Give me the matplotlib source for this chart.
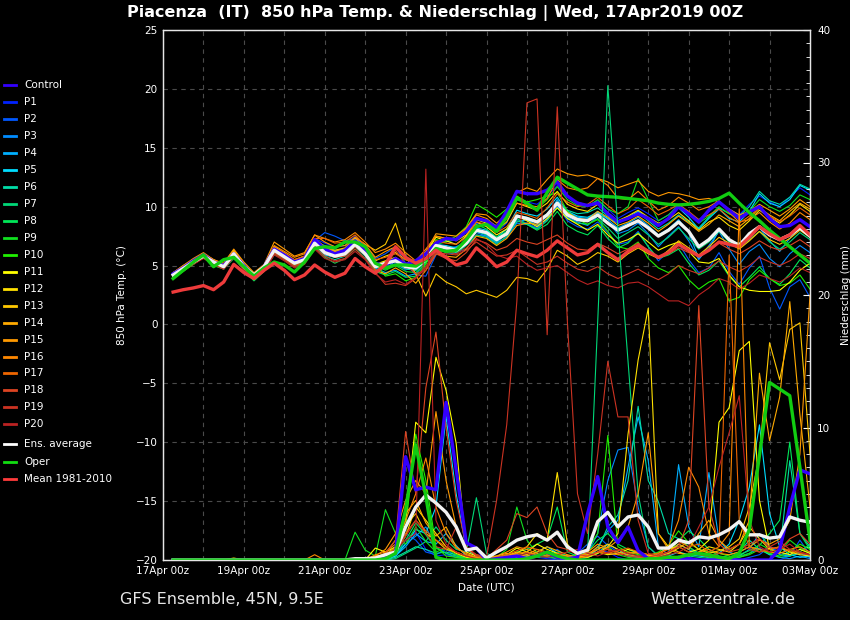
import matplotlib
matplotlib.use('Agg')
import matplotlib.pyplot as plt
import matplotlib.dates as mdates
from matplotlib.lines import Line2D
from matplotlib.ticker import MultipleLocator
import pandas as pd

# 6-hourly GFS ensemble run 17Apr2019 00Z, first value at +6h
times = pd.date_range('2019-04-17 06:00', periods=64, freq='6h')

labels = ['Control'] + ['P%d' % k for k in range(1, 21)]
colors = ['#3300ff', '#0022ff', '#0058ff', '#008cff', '#00b0ff', '#00ddff',
          '#00dda8', '#00d878', '#00e858', '#10e020', '#20f000', '#ffff00',
          '#ffe000', '#ffc800', '#ffaa00', '#ff9900', '#ff8800', '#ee6600',
          '#dd4422', '#cc3322', '#bb2222']

# 850 hPa temperature (deg C)
t_ens = [4.2, 4.75, 5.3, 5.8, 5.3, 4.9, 6.0, 4.9, 4.2, 4.9, 6.3, 5.75, 5.2, 5.5, 6.9, 6.1,
         5.8, 6.0, 6.8, 6.0, 4.9, 5.2, 5.4, 4.9, 4.8, 5.5, 6.7, 6.5, 6.3, 6.9, 8.0, 7.8,
         7.2, 7.7, 9.2, 9.0, 8.7, 9.3, 10.3, 9.3, 8.9, 8.8, 9.3, 8.6, 8.0, 8.4, 8.8, 8.2,
         7.5, 8.0, 8.7, 7.9, 6.6, 7.2, 8.1, 7.2, 6.7, 7.7, 8.3, 7.6, 7.2, 7.6, 8.2, 7.5]
t_oper = [3.9, 4.6, 5.3, 5.9, 4.9, 5.5, 5.7, 4.9, 4.1, 4.8, 5.3, 5.05, 4.45, 5.3, 6.45, 6.6,
          6.5, 7.0, 7.0, 6.6, 5.2, 4.8, 5.05, 5.05, 4.95, 5.5, 6.45, 6.2, 6.3, 7.2, 8.3, 8.5,
          7.9, 9.1, 10.7, 10.3, 9.7, 11.2, 12.5, 12.0, 11.5, 11.0, 10.9, 10.85, 10.8, 10.7, 10.6, 10.5,
          10.3, 10.2, 10.15, 10.2, 10.3, 10.45, 10.7, 11.15, 10.3, 9.5, 8.8, 8.0, 7.3, 6.6, 5.9, 5.2]
t_clim = [2.75, 2.95, 3.1, 3.3, 2.95, 3.6, 5.1, 4.4, 3.9, 4.6, 5.2, 4.6, 3.8, 4.2, 5.05, 4.45,
          4.0, 4.35, 5.6, 4.9, 4.35, 5.1, 6.6, 5.7, 5.2, 5.6, 6.3, 5.7, 5.05, 5.3, 6.5, 5.75,
          4.9, 5.3, 6.3, 6.0, 5.75, 6.3, 7.1, 6.5, 5.9, 6.1, 6.8, 6.1, 5.5, 6.2, 6.7, 6.2,
          5.7, 6.1, 6.8, 6.3, 5.8, 6.3, 7.0, 6.8, 6.6, 7.4, 8.3, 7.7, 7.2, 7.6, 8.4, 7.6]
t_ctrl = [4.3, 4.8, 5.4, 5.9, 5.3, 5.0, 6.0, 5.0, 4.1, 4.9, 6.4, 5.9, 5.3, 5.6, 7.2, 6.4,
          6.0, 6.3, 7.1, 6.3, 5.2, 5.0, 5.6, 5.1, 5.4, 6.0, 6.9, 7.3, 7.2, 7.9, 9.0, 8.8,
          8.2, 9.6, 11.3, 11.1, 11.1, 11.4, 12.1, 10.9, 10.3, 10.1, 10.3, 9.4, 8.7, 9.0, 9.4, 9.0,
          8.4, 9.0, 10.0, 9.4, 8.7, 9.7, 10.4, 9.7, 9.0, 9.55, 10.0, 9.0, 8.3, 8.4, 8.9, 8.3]
t_p1 = [4.1, 4.7, 5.3, 5.8, 5.2, 4.9, 6.0, 5.0, 4.3, 5.0, 6.2, 5.8, 5.4, 5.7, 7.3, 6.9,
        6.6, 6.7, 7.5, 6.5, 5.3, 4.8, 5.2, 4.6, 5.0, 5.6, 6.9, 7.1, 6.8, 7.4, 8.6, 8.4,
        7.8, 8.6, 10.6, 10.4, 10.2, 10.9, 11.8, 10.8, 10.4, 10.1, 10.5, 9.8, 9.0, 9.5, 9.9, 9.4,
        8.8, 9.3, 10.2, 9.5, 8.9, 9.6, 10.3, 9.8, 9.3, 10.2, 10.9, 10.4, 10.0, 10.8, 11.6, 11.0]
t_p2 = [4.3, 4.9, 5.5, 5.9, 5.4, 5.0, 5.9, 4.8, 4.0, 4.8, 6.1, 5.6, 5.1, 5.4, 7.1, 7.8,
        7.5, 7.1, 7.3, 6.7, 5.6, 6.0, 6.6, 5.2, 4.2, 4.1, 5.9, 6.6, 6.1, 6.4, 7.6, 7.5,
        6.9, 7.8, 8.9, 8.6, 8.2, 9.0, 10.1, 8.8, 8.3, 8.1, 8.7, 7.8, 6.8, 7.0, 7.9, 6.6,
        5.4, 6.2, 6.9, 5.5, 4.4, 4.8, 6.1, 4.5, 3.4, 4.8, 5.8, 3.1, 1.3, 3.2, 3.8, 2.3]
t_p3 = [4.2, 4.8, 5.4, 5.9, 5.3, 4.8, 5.9, 4.9, 4.2, 4.8, 6.0, 5.6, 5.2, 5.6, 7.0, 6.7,
        6.3, 6.4, 6.9, 6.2, 5.0, 4.7, 5.4, 4.9, 4.7, 5.6, 6.6, 6.4, 6.6, 7.0, 7.8, 7.5,
        6.9, 7.4, 8.6, 8.5, 8.1, 8.9, 10.0, 9.1, 8.7, 8.4, 9.2, 8.7, 7.7, 8.0, 8.6, 7.7,
        6.6, 7.5, 8.3, 7.1, 5.5, 6.7, 7.9, 6.4, 5.1, 6.2, 6.8, 5.6, 4.9, 6.0, 6.7, 6.1]
t_p4 = [4.2, 4.8, 5.3, 5.8, 5.3, 4.9, 6.1, 5.0, 4.1, 4.8, 6.3, 5.7, 5.1, 5.5, 6.8, 6.0,
        5.8, 6.1, 6.9, 6.1, 4.8, 4.4, 4.6, 4.1, 4.3, 5.2, 6.5, 6.1, 6.0, 6.8, 7.9, 7.7,
        7.3, 7.6, 8.7, 8.9, 8.4, 9.2, 10.6, 9.5, 9.1, 9.0, 9.6, 8.9, 8.2, 8.6, 9.1, 8.4,
        7.6, 8.1, 8.9, 7.8, 5.6, 6.4, 8.0, 7.1, 6.9, 7.6, 8.2, 7.1, 6.2, 7.3, 8.3, 7.7]
t_p5 = [4.1, 4.7, 5.2, 5.8, 5.2, 4.9, 6.1, 5.1, 4.3, 4.9, 6.2, 5.7, 5.1, 5.4, 6.8, 5.9,
        5.7, 5.9, 6.7, 5.9, 4.9, 5.3, 5.6, 4.9, 4.6, 5.4, 6.8, 6.7, 6.5, 7.1, 8.2, 8.0,
        7.4, 8.1, 9.7, 9.4, 9.2, 9.8, 10.8, 9.6, 9.2, 9.1, 9.5, 9.0, 8.6, 9.1, 9.6, 9.0,
        8.4, 9.0, 9.9, 9.1, 8.1, 9.0, 9.8, 9.0, 8.7, 9.6, 11.1, 10.3, 10.0, 10.6, 11.8, 11.4]
t_p6 = [4.0, 4.6, 5.2, 5.7, 5.1, 4.8, 5.7, 4.7, 3.9, 4.7, 6.0, 5.6, 5.0, 5.3, 6.6, 5.8,
        5.5, 5.8, 6.6, 5.8, 4.6, 4.9, 5.1, 4.7, 4.6, 5.3, 6.4, 6.3, 6.1, 6.9, 7.9, 7.6,
        7.0, 7.8, 9.3, 9.1, 8.8, 9.4, 10.4, 9.7, 9.4, 9.5, 9.9, 9.2, 8.6, 9.0, 9.5, 8.8,
        8.1, 8.6, 9.3, 8.7, 8.2, 9.1, 9.9, 9.4, 9.2, 10.0, 11.3, 10.5, 10.2, 10.8, 11.9, 11.5]
t_p7 = [4.0, 4.6, 5.1, 5.7, 5.2, 4.7, 5.6, 4.7, 3.8, 4.6, 5.9, 5.6, 5.1, 5.4, 6.7, 6.1,
        5.7, 5.9, 6.7, 6.0, 4.8, 5.1, 5.5, 5.0, 4.9, 5.6, 6.6, 6.3, 6.0, 6.7, 7.6, 7.4,
        6.8, 7.5, 8.8, 8.5, 8.1, 8.8, 9.9, 9.0, 8.6, 8.5, 9.0, 8.2, 7.3, 7.8, 8.3, 7.6,
        6.8, 7.4, 8.2, 7.3, 6.4, 7.0, 7.9, 7.0, 6.5, 7.2, 7.9, 7.0, 6.4, 7.0, 7.8, 7.2]
t_p8 = [4.0, 4.6, 5.2, 5.8, 5.0, 4.7, 5.7, 4.6, 3.7, 4.5, 6.1, 5.5, 4.9, 5.2, 6.6, 5.7,
        5.2, 5.6, 6.4, 5.6, 4.5, 4.2, 4.5, 4.0, 4.1, 4.9, 6.2, 6.2, 6.2, 7.1, 8.5, 8.1,
        7.4, 7.9, 9.0, 8.5, 8.0, 8.5, 9.6, 8.4, 7.9, 7.6, 8.4, 7.3, 6.5, 6.9, 7.8, 6.6,
        5.6, 5.9, 6.4, 5.2, 4.2, 4.6, 5.4, 4.1, 3.2, 4.0, 4.9, 3.9, 3.4, 4.3, 5.5, 4.8]
t_p9 = [4.1, 4.7, 5.3, 5.9, 5.3, 5.0, 5.9, 4.8, 4.0, 4.8, 6.2, 5.8, 5.3, 5.6, 7.0, 6.3,
        6.0, 6.2, 7.0, 6.2, 5.0, 4.6, 5.0, 4.5, 4.4, 5.2, 6.8, 7.0, 7.2, 7.8, 9.0, 8.8,
        8.4, 9.2, 10.9, 10.1, 9.8, 10.6, 11.7, 10.6, 10.1, 10.0, 10.6, 9.8, 9.4, 10.0, 12.4, 10.6,
        8.8, 9.3, 10.1, 9.4, 8.6, 9.2, 10.0, 9.4, 9.0, 9.6, 10.6, 10.0, 9.6, 10.1, 11.0, 10.6]
t_p10 = [3.9, 4.5, 5.1, 5.7, 5.0, 4.8, 5.8, 4.8, 3.8, 4.6, 6.0, 5.6, 5.0, 5.3, 6.9, 6.3,
         6.1, 6.4, 7.2, 6.4, 5.2, 4.1, 4.3, 3.7, 4.0, 5.1, 7.2, 7.0, 7.5, 8.3, 10.2, 9.7,
         9.1, 9.8, 10.9, 10.4, 10.6, 10.9, 11.2, 9.6, 8.9, 8.5, 8.9, 7.9, 6.6, 6.4, 7.0, 5.6,
         4.8, 4.4, 5.0, 3.8, 3.0, 3.6, 3.9, 2.0, 2.3, 3.8, 4.6, 3.9, 3.3, 3.5, 4.2, 3.0]
t_p11 = [4.2, 4.8, 5.4, 5.9, 5.4, 5.1, 6.3, 5.1, 4.3, 5.0, 6.6, 6.0, 5.4, 5.8, 7.2, 6.4,
         6.1, 6.2, 7.0, 6.2, 5.1, 5.4, 5.7, 5.1, 4.9, 6.0, 7.4, 7.1, 6.8, 7.5, 8.7, 8.3,
         7.6, 8.1, 9.2, 8.8, 8.3, 9.0, 9.9, 9.0, 8.5, 8.0, 8.5, 7.6, 6.9, 7.2, 7.7, 7.0,
         6.3, 6.7, 7.0, 6.2, 5.3, 5.2, 5.6, 4.2, 3.2, 2.9, 2.8, 2.8, 2.9, 3.6, 4.6, 5.2]
t_p12 = [4.3, 4.9, 5.5, 6.0, 5.4, 5.0, 6.2, 5.0, 4.2, 4.9, 6.4, 5.9, 5.3, 5.6, 7.1, 6.5,
         6.2, 6.4, 7.3, 6.4, 5.4, 5.8, 6.1, 5.5, 5.3, 6.1, 7.5, 7.3, 7.1, 7.6, 8.9, 8.6,
         8.0, 8.7, 10.3, 10.0, 9.7, 10.3, 11.3, 10.2, 9.8, 9.6, 10.2, 9.5, 8.8, 9.2, 9.7, 9.1,
         8.6, 8.9, 9.5, 8.8, 8.0, 8.7, 9.1, 8.4, 8.0, 8.8, 9.7, 9.1, 8.6, 9.3, 10.2, 9.6]
t_p13 = [4.3, 4.9, 5.4, 6.0, 5.5, 5.1, 6.3, 5.2, 4.2, 5.0, 6.5, 5.9, 5.3, 5.7, 7.0, 6.6,
         6.3, 6.5, 7.4, 6.8, 6.3, 6.8, 8.6, 5.8, 4.3, 2.4, 4.3, 3.6, 3.2, 2.6, 2.9, 2.6,
         2.3, 2.9, 4.0, 3.9, 3.6, 4.7, 6.3, 5.8, 5.1, 5.5, 6.1, 5.8, 5.3, 6.0, 6.5, 6.0,
         5.6, 6.3, 7.1, 6.5, 5.9, 6.6, 7.4, 6.9, 6.4, 7.1, 7.9, 7.2, 6.8, 7.3, 8.0, 7.4]
t_p14 = [4.4, 5.0, 5.5, 6.0, 5.5, 5.1, 6.2, 5.1, 4.3, 5.0, 6.6, 6.1, 5.5, 5.8, 7.3, 6.6,
         6.2, 6.3, 7.1, 6.3, 4.6, 4.3, 4.8, 4.3, 3.5, 4.6, 6.0, 5.8, 5.7, 6.4, 7.5, 7.3,
         6.7, 7.3, 8.4, 8.6, 8.5, 9.3, 10.3, 9.5, 9.0, 8.9, 9.6, 9.1, 8.4, 8.7, 9.2, 8.6,
         7.9, 8.5, 9.2, 8.6, 7.9, 8.5, 9.3, 8.8, 8.3, 9.0, 9.9, 9.3, 8.8, 9.6, 10.3, 9.8]
t_p15 = [4.4, 5.0, 5.6, 6.1, 5.5, 5.2, 6.4, 5.3, 4.4, 5.1, 7.0, 6.4, 5.8, 6.1, 7.6, 7.0,
         6.6, 6.7, 7.4, 6.8, 5.7, 6.2, 6.6, 5.6, 5.4, 6.2, 7.7, 7.6, 7.5, 8.2, 9.4, 9.3,
         8.6, 9.4, 11.2, 11.6, 11.3, 12.3, 13.2, 12.8, 12.6, 12.7, 12.4, 12.1, 11.6, 11.9, 12.2, 11.3,
         10.9, 11.2, 11.1, 10.9, 10.6, 10.7, 10.4, 9.8, 9.3, 9.6, 10.2, 9.7, 9.2, 9.8, 10.6, 10.0]
t_p16 = [4.3, 4.9, 5.5, 6.0, 5.4, 5.0, 6.1, 5.0, 4.2, 5.0, 6.7, 6.2, 5.7, 6.0, 7.6, 7.3,
         7.0, 7.2, 7.8, 7.0, 6.1, 6.4, 6.9, 6.1, 5.4, 6.4, 7.5, 7.3, 7.3, 8.1, 9.3, 9.0,
         8.3, 9.0, 10.3, 10.1, 10.0, 10.7, 12.3, 11.6, 11.4, 11.6, 12.4, 11.8, 10.7, 10.6, 11.3, 10.5,
         9.7, 10.1, 10.8, 10.3, 9.7, 10.0, 10.5, 9.5, 8.7, 8.9, 9.5, 8.7, 8.1, 8.6, 9.5, 8.9]
t_p17 = [4.2, 4.8, 5.4, 5.9, 5.3, 4.9, 6.0, 4.9, 4.1, 4.9, 6.5, 6.0, 5.5, 5.8, 7.3, 7.3,
         6.9, 7.0, 7.6, 6.7, 5.5, 5.7, 6.0, 5.5, 5.2, 5.9, 7.1, 6.9, 6.8, 7.4, 8.7, 8.5,
         7.8, 8.3, 9.5, 9.3, 9.0, 9.9, 11.1, 10.4, 10.0, 10.2, 10.8, 10.1, 9.4, 9.8, 10.6, 10.0,
         9.3, 9.7, 10.2, 9.6, 8.9, 9.3, 9.8, 9.1, 8.6, 9.2, 9.9, 9.2, 8.7, 9.2, 9.9, 9.3]
t_p18 = [4.2, 4.7, 5.3, 5.8, 5.2, 4.8, 5.9, 4.8, 4.0, 4.7, 6.1, 5.6, 5.0, 5.3, 6.7, 6.0,
         5.7, 5.8, 6.6, 5.9, 4.6, 4.8, 6.3, 5.1, 4.3, 4.6, 6.0, 5.6, 5.4, 6.1, 7.2, 6.9,
         6.3, 6.6, 7.3, 7.0, 6.8, 7.2, 7.6, 6.9, 6.4, 6.3, 6.9, 6.5, 6.0, 6.4, 6.9, 6.3,
         5.6, 6.0, 6.5, 6.1, 5.8, 6.3, 6.9, 6.4, 6.0, 6.5, 7.1, 6.6, 6.3, 6.7, 7.2, 6.6]
t_p19 = [4.1, 4.7, 5.2, 5.7, 5.1, 4.7, 5.8, 4.7, 3.9, 4.6, 6.0, 5.5, 4.9, 5.2, 6.5, 5.8,
         5.4, 5.6, 6.4, 5.6, 4.4, 3.4, 3.5, 3.3, 3.9, 4.8, 6.1, 6.0, 5.9, 6.3, 7.0, 6.4,
         5.8, 5.9, 6.3, 5.7, 5.1, 5.3, 5.8, 5.2, 4.7, 4.5, 4.9, 4.3, 3.9, 4.3, 4.7, 4.2,
         3.8, 4.3, 5.0, 4.6, 4.3, 4.8, 5.4, 4.9, 4.5, 5.0, 5.7, 5.3, 5.0, 5.4, 6.0, 5.6]
t_p20 = [4.0, 4.6, 5.1, 5.6, 5.1, 4.7, 5.7, 4.6, 3.8, 4.5, 5.9, 5.4, 4.8, 5.1, 6.4, 5.6,
         5.3, 5.5, 6.2, 5.5, 4.3, 3.6, 3.8, 3.4, 4.0, 4.9, 6.3, 6.2, 6.0, 6.5, 7.3, 6.8,
         5.9, 5.6, 5.8, 5.1, 4.6, 4.8, 5.0, 4.4, 3.8, 3.4, 3.7, 3.3, 3.1, 3.5, 3.6, 3.2,
         2.6, 2.0, 2.0, 1.6, 2.5, 3.1, 3.9, 3.6, 3.0, 3.5, 4.2, 3.9, 3.6, 4.1, 4.8, 4.4]

# 6-hourly precipitation (mm)
pr_ens = [0, 0, 0, 0, 0, 0, 0, 0, 0, 0, 0, 0, 0, 0, 0, 0,
          0, 0, 0.1, 0.1, 0.15, 0.4, 0.6, 2.5, 4.0, 4.9, 4.3, 3.6, 2.5, 0.75, 0.9, 0.15,
          0.6, 1.0, 1.5, 1.75, 1.9, 1.5, 2.1, 1.0, 0.5, 0.75, 2.9, 3.6, 2.5, 3.25, 3.4, 2.5,
          0.9, 0.9, 1.5, 1.3, 1.75, 1.65, 1.9, 2.3, 2.9, 1.9, 1.9, 1.65, 1.75, 3.25, 3.0, 2.85]
pr_oper = [0, 0, 0, 0, 0, 0, 0, 0, 0, 0, 0, 0, 0, 0, 0, 0,
           0, 0, 0, 0, 0, 0.1, 0.5, 3.8, 8.7, 4.8, 0.2, 0, 0, 0, 0, 0,
           0, 0, 0, 0.1, 0.3, 0.6, 0.3, 0.1, 0, 0, 0, 0, 0, 0, 0, 0.1,
           0.1, 0.2, 0.2, 0.4, 0.5, 0.4, 0.2, 0.1, 0.5, 2.3, 7.9, 13.4, 12.9, 12.4, 7.0, 1.5]
pr_ctrl = [0, 0, 0, 0, 0, 0, 0, 0, 0, 0, 0, 0, 0, 0, 0, 0,
           0, 0, 0, 0, 0.1, 0.2, 0.5, 7.8, 5.3, 5.5, 5.3, 11.9, 6.8, 1.3, 0.9, 0.0,
           0.1, 0.2, 0.3, 0.1, 0.3, 0.6, 0.2, 0.1, 0.2, 3.5, 6.3, 2.5, 1.3, 2.5, 0.7, 0.1,
           0, 0, 0, 0.1, 0, 0, 0, 0, 0, 0, 0, 0, 0.8, 4.0, 6.8, 6.5]
pr_p1 = [0, 0, 0, 0, 0, 0, 0, 0, 0, 0, 0, 0, 0, 0, 0, 0,
         0, 0, 0, 0, 0, 0.2, 0.4, 1.5, 2.1, 0.8, 0.3, 0.4, 0.2, 0, 0, 0,
         0, 0.1, 0.2, 0.3, 0.2, 0.1, 0, 0, 0, 0.2, 0.8, 0.6, 0.2, 0, 0, 0,
         0, 0, 0, 0, 0, 0, 0, 0, 0, 0, 0, 0, 0, 0.3, 0.6, 0.2]
pr_p2 = [0, 0, 0, 0, 0, 0, 0, 0, 0, 0, 0, 0, 0, 0, 0, 0,
         0, 0, 0, 0, 0, 0.3, 0.8, 2.0, 1.5, 0.6, 0.4, 0.8, 0.3, 0.1, 0, 0,
         0, 0, 0.2, 0.5, 0.4, 0.3, 0.8, 0.2, 0.5, 1.2, 1.8, 1.1, 0.6, 0.4, 0.3, 0.1,
         0, 0, 0.3, 0.2, 0, 0, 0, 0, 0, 0.2, 0.4, 1.0, 0.6, 0.3, 1.5, 0.4]
pr_p3 = [0, 0, 0, 0, 0, 0, 0, 0, 0, 0, 0, 0, 0, 0, 0, 0,
         0, 0, 0, 0, 0, 0.1, 0.5, 1.2, 1.8, 2.5, 1.0, 0.5, 0.2, 0.1, 0, 0,
         0, 0.2, 0.4, 0.2, 0.3, 0.2, 0.1, 0.1, 0.3, 0.5, 2.0, 6.0, 8.3, 8.5, 4.0, 1.0,
         0.3, 0.5, 1.2, 0.8, 0.4, 0.2, 0.1, 0, 0.2, 0.5, 0.9, 0.4, 0.2, 0.1, 0.3, 0.1]
pr_p4 = [0, 0, 0, 0, 0, 0, 0, 0, 0, 0, 0, 0, 0, 0, 0, 0,
         0, 0, 0, 0, 0, 0.1, 0.3, 1.0, 2.0, 1.4, 1.2, 2.0, 1.1, 0.3, 0.1, 0,
         0.1, 0.1, 0.2, 0.2, 0.4, 0.3, 0.2, 0.1, 0.1, 0.3, 1.0, 2.2, 3.0, 7.0, 10.8, 7.5,
         1.0, 0.4, 7.2, 2.5, 1.0, 6.6, 1.5, 0.6, 0.3, 0.8, 2.0, 1.0, 0.4, 0.3, 0.5, 0.2]
pr_p5 = [0, 0, 0, 0, 0, 0, 0, 0, 0, 0, 0, 0, 0, 0, 0, 0,
         0, 0, 0, 0, 0, 0, 0.3, 1.2, 2.3, 2.0, 4.0, 10.8, 5.0, 0.8, 0.3, 0,
         0, 0.1, 0.2, 0.3, 0.6, 1.0, 0.5, 0.2, 0.1, 0.2, 0.5, 1.2, 0.8, 0.3, 0.2, 0.1,
         0.1, 0.3, 0.6, 0.4, 0.3, 0.2, 0.5, 1.2, 3.0, 5.5, 10.2, 3.5, 1.0, 0.4, 0.2, 0.3]
pr_p6 = [0, 0, 0, 0, 0, 0, 0, 0, 0, 0, 0, 0, 0, 0, 0, 0,
         0, 0, 0, 0, 0, 0, 0.2, 0.6, 1.0, 0.8, 0.5, 0.6, 0.4, 0.1, 0, 0,
         0, 0.1, 0.3, 0.2, 0.2, 0.4, 0.5, 0.2, 0.1, 0.3, 0.8, 2.5, 3.4, 6.0, 11.6, 6.0,
         4.4, 2.0, 1.6, 1.0, 0.5, 0.3, 0.2, 0.1, 0.6, 1.5, 0.8, 0.4, 0.5, 7.5, 2.0, 1.0]
pr_p7 = [0, 0, 0, 0, 0, 0, 0, 0, 0, 0, 0, 0, 0, 0, 0, 0,
         0, 0, 0, 0, 0, 0, 0.1, 0.5, 0.9, 1.4, 2.5, 1.5, 0.8, 0.6, 4.7, 0.5,
         0.2, 0.1, 0.3, 0.5, 0.4, 0.3, 0.6, 0.3, 0.2, 0.5, 18.0, 35.8, 25.0, 15.0, 5.0, 1.0,
         0.3, 0.2, 0.2, 0.3, 0.2, 0.1, 0.1, 0.4, 0.6, 1.0, 0.8, 0.5, 0.2, 0.3, 0.6, 1.2]
pr_p8 = [0, 0, 0, 0, 0, 0, 0, 0, 0, 0, 0, 0, 0, 0, 0, 0,
         0, 0, 0, 0, 0, 0.1, 0.4, 1.5, 2.8, 1.9, 0.9, 0.5, 0.3, 0.1, 0.2, 0,
         0.1, 0.3, 0.6, 0.8, 1.2, 1.6, 4.0, 0.6, 0.3, 0.6, 1.5, 2.0, 1.2, 0.8, 0.5, 0.3,
         0.2, 0.4, 1.5, 2.2, 1.6, 0.8, 0.3, 0.2, 0.4, 0.7, 1.1, 2.0, 3.0, 8.9, 2.0, 0.8]
pr_p9 = [0, 0, 0, 0, 0, 0, 0, 0, 0, 0, 0, 0, 0, 0, 0, 0,
         0, 0, 2.1, 0.75, 0.3, 3.8, 2.0, 1.2, 2.5, 1.4, 0.6, 0.9, 0.4, 0.2, 0.1, 0,
         0.2, 0.8, 4.0, 1.5, 0.5, 0.3, 0.4, 0.2, 0.1, 0.2, 0.5, 1.0, 0.4, 0.2, 0.1, 0.1,
         0.2, 0.3, 1.6, 1.0, 0.4, 0.2, 0.1, 0.1, 0.3, 0.5, 1.2, 0.8, 0.6, 1.5, 0.9, 0.5]
pr_p10 = [0, 0, 0, 0, 0, 0, 0, 0, 0, 0, 0, 0, 0, 0, 0, 0,
          0, 0, 0, 0, 0.1, 0.3, 0.9, 2.4, 9.5, 6.0, 1.0, 0.3, 0.2, 0.1, 0, 0,
          0, 0, 0.1, 0.2, 0.2, 0.3, 0.1, 0.2, 0.4, 0.8, 2.0, 9.4, 1.0, 0.6, 0.4, 0.3,
          0.6, 1.1, 2.2, 1.3, 0.8, 0.6, 0.5, 0.3, 0.2, 0.4, 0.8, 0.5, 0.3, 0.6, 1.2, 0.8]
pr_p11 = [0, 0, 0, 0, 0, 0, 0, 0, 0, 0, 0, 0, 0, 0, 0, 0,
          0, 0, 0, 0, 0.9, 0.6, 1.0, 3.0, 10.4, 9.6, 15.3, 12.8, 8.8, 0.6, 0.3, 0.1,
          0.2, 0.4, 0.9, 0.6, 1.2, 0.8, 0.5, 0.2, 0.1, 0.3, 0.6, 0.4, 0.5, 0.8, 0.6, 0.3,
          0.5, 0.9, 1.0, 0.6, 0.8, 1.5, 10.4, 11.5, 15.8, 16.5, 4.5, 0.8, 0.6, 0.4, 0.8, 0.5]
pr_p12 = [0, 0, 0, 0, 0, 0, 0, 0, 0, 0, 0, 0, 0, 0, 0, 0,
          0, 0, 0, 0, 0, 0.2, 0.6, 1.8, 4.0, 3.0, 2.0, 1.0, 0.5, 0.2, 0.1, 0,
          0.1, 0.2, 0.5, 1.0, 2.0, 1.5, 6.6, 1.2, 0.3, 0.2, 0.5, 1.0, 2.0, 9.5, 15.1, 19.0,
          2.0, 1.0, 0.6, 0.3, 0.6, 1.0, 0.8, 0.6, 1.2, 2.5, 1.6, 0.8, 1.0, 0.6, 0.4, 0.3]
pr_p13 = [0, 0, 0, 0, 0, 0, 0.15, 0, 0, 0, 0, 0, 0, 0, 0, 0,
          0, 0, 0, 0, 0.3, 0.4, 1.0, 2.6, 3.5, 2.0, 1.5, 0.8, 0.6, 0.3, 0.2, 0.1,
          0.2, 0.3, 0.6, 0.4, 0.8, 0.6, 0.4, 0.3, 0.2, 0.4, 0.8, 1.2, 0.8, 0.5, 0.6, 0.4,
          0.3, 0.5, 0.9, 1.4, 0.8, 0.5, 0.7, 1.0, 1.6, 4.0, 8.0, 16.4, 13.6, 17.4, 17.9, 8.0]
pr_p14 = [0, 0, 0, 0, 0, 0, 0, 0, 0, 0, 0, 0, 0, 0, 0, 0,
          0, 0, 0, 0, 0.2, 0.5, 1.5, 3.5, 4.5, 2.8, 1.8, 2.5, 1.0, 0.4, 0.2, 0.1,
          0.3, 0.5, 0.4, 0.3, 0.6, 1.0, 0.7, 0.4, 0.2, 0.4, 1.0, 0.8, 0.6, 0.4, 0.3, 0.2,
          0.3, 0.6, 1.2, 0.8, 2.0, 3.0, 1.5, 0.8, 1.2, 3.0, 14.1, 9.0, 12.3, 19.5, 11.0, 4.0]
pr_p15 = [0, 0, 0, 0, 0, 0, 0, 0, 0, 0, 0, 0, 0, 0, 0, 0,
          0, 0, 0, 0, 0.3, 0.8, 2.0, 4.5, 6.0, 5.0, 11.2, 6.0, 2.5, 0.8, 0.4, 0.2,
          0.3, 0.6, 1.0, 0.8, 0.5, 0.6, 0.4, 0.3, 0.2, 0.6, 1.2, 0.9, 1.5, 2.5, 5.0, 9.6,
          2.0, 0.8, 0.5, 0.4, 0.6, 0.8, 0.5, 0.4, 0.6, 1.0, 1.5, 1.2, 1.6, 3.0, 8.0, 20.0]
pr_p16 = [0, 0, 0, 0, 0, 0, 0, 0, 0, 0, 0, 0, 0, 0, 0.4, 0,
          0, 0, 0, 0, 0.4, 0.6, 1.2, 3.0, 5.0, 7.7, 4.0, 2.0, 0.9, 0.5, 0.2, 0.1,
          0.1, 0.3, 0.5, 0.6, 0.4, 0.3, 0.5, 0.2, 0.3, 0.5, 0.8, 0.5, 0.4, 0.6, 0.5, 0.4,
          0.3, 1.0, 3.0, 7.0, 5.5, 2.0, 1.0, 2.0, 26.5, 1.0, 0.8, 0.6, 0.5, 0.8, 1.0, 0.6]
pr_p17 = [0, 0, 0, 0, 0, 0, 0, 0, 0, 0, 0, 0, 0, 0, 0, 0,
          0, 0, 0, 0, 0.2, 0.4, 0.9, 2.0, 3.0, 2.2, 1.5, 1.0, 0.6, 0.3, 0.1, 0,
          0.2, 0.4, 0.7, 1.0, 0.8, 0.4, 0.3, 0.2, 0.1, 0.3, 0.6, 0.5, 0.7, 0.9, 0.6, 0.4,
          0.5, 0.8, 1.4, 1.0, 1.2, 0.6, 1.0, 23.0, 3.0, 1.0, 0.6, 0.8, 1.0, 0.7, 0.5, 0.4]
pr_p18 = [0, 0, 0, 0, 0, 0, 0, 0, 0, 0, 0, 0, 0, 0, 0, 0,
          0, 0, 0, 0, 0.1, 0.5, 1.5, 9.7, 5.0, 13.0, 17.2, 10.0, 4.5, 1.0, 0.3, 0.1,
          0.8, 1.5, 3.5, 3.2, 4.0, 2.0, 1.0, 0.8, 0.4, 0.3, 0.6, 0.8, 0.5, 0.3, 0.2, 0.2,
          0.4, 0.6, 1.0, 3.0, 19.2, 4.0, 1.2, 0.6, 0.8, 1.2, 1.6, 1.0, 0.8, 1.6, 2.0, 1.2]
pr_p19 = [0, 0, 0, 0, 0, 0, 0, 0, 0, 0, 0, 0, 0, 0, 0, 0,
          0, 0, 0, 0, 0.1, 0.3, 0.6, 1.8, 3.0, 2.0, 1.0, 0.8, 2.5, 1.0, 0.4, 0.2,
          4.5, 10.2, 19.5, 34.5, 34.8, 17.0, 34.2, 18.0, 5.0, 2.0, 8.0, 15.0, 10.8, 10.8, 3.0, 0.5,
          0.3, 0.6, 1.0, 0.6, 0.4, 0.3, 0.5, 0.8, 1.2, 0.8, 0.6, 1.0, 1.4, 0.8, 0.6, 0.4]
pr_p20 = [0, 0, 0, 0, 0, 0, 0, 0, 0, 0, 0, 0, 0, 0, 0, 0,
          0, 0, 0, 0, 0.1, 0.3, 0.8, 1.5, 2.0, 29.5, 3.0, 1.2, 0.6, 0.3, 0.1, 0,
          0.1, 0.2, 0.3, 0.5, 0.3, 0.2, 0.4, 0.6, 0.8, 0.5, 0.3, 0.6, 0.8, 0.5, 0.3, 0.2,
          0.2, 0.4, 0.6, 1.0, 2.5, 4.0, 7.0, 9.6, 12.4, 3.0, 1.0, 0.6, 0.8, 1.2, 0.6, 0.4]

member_temp = [t_ctrl, t_p1, t_p2, t_p3, t_p4, t_p5, t_p6, t_p7, t_p8, t_p9, t_p10,
               t_p11, t_p12, t_p13, t_p14, t_p15, t_p16, t_p17, t_p18, t_p19, t_p20]
member_prec = [pr_ctrl, pr_p1, pr_p2, pr_p3, pr_p4, pr_p5, pr_p6, pr_p7, pr_p8, pr_p9, pr_p10,
               pr_p11, pr_p12, pr_p13, pr_p14, pr_p15, pr_p16, pr_p17, pr_p18, pr_p19, pr_p20]

fg = 'white'
fig = plt.figure(figsize=(8.5, 6.2), dpi=100, facecolor='black')
ax = fig.add_axes([163 / 850, 60 / 620, 647 / 850, 530 / 620], facecolor='black')
ax2 = ax.twinx()

# temperature, thin members first
for k in range(1, 21):
    ax.plot(times, member_temp[k], color=colors[k], lw=0.8)
ax.plot(times, t_ctrl, color=colors[0], lw=2.4)
ax.plot(times, t_ens, color='#f2f2f2', lw=2.4)
ax.plot(times, t_oper, color='#11cc11', lw=2.4)
ax.plot(times, t_clim, color='#ee3b3b', lw=2.4)

# precipitation on the right axis
for k in range(1, 21):
    ax2.plot(times, member_prec[k], color=colors[k], lw=0.8)
ax2.plot(times, pr_ctrl, color=colors[0], lw=2.4)
ax2.plot(times, pr_ens, color='#f2f2f2', lw=2.4)
ax2.plot(times, pr_oper, color='#11cc11', lw=2.4)

ax.set_xlim(pd.Timestamp('2019-04-17 00:00'), pd.Timestamp('2019-05-03 00:00'))
ax.set_ylim(-20, 25)
ax2.set_ylim(0, 40)

ax.xaxis.set_major_locator(mdates.DayLocator(interval=2))
ax.xaxis.set_minor_locator(mdates.DayLocator())
ax.xaxis.set_major_formatter(mdates.DateFormatter('%d%b %Hz'))
ax.yaxis.set_major_locator(MultipleLocator(5))
ax2.yaxis.set_major_locator(MultipleLocator(10))
ax2.yaxis.set_minor_locator(MultipleLocator(1))

ax.grid(True, which='both', axis='x', color='#4a4a4a', ls=(0, (4, 4)), lw=0.8)
ax.grid(True, which='major', axis='y', color='#4a4a4a', ls=(0, (4, 4)), lw=0.8)

ax.tick_params(axis='both', which='both', length=0, colors=fg, labelsize=7.5, pad=4)
ax2.tick_params(axis='y', which='major', direction='in', length=5, colors=fg, labelsize=7.5, pad=5)
ax2.tick_params(axis='y', which='minor', direction='in', length=3, colors=fg)
for a in (ax, ax2):
    for s in a.spines.values():
        s.set_color('#e6e6e6')
        s.set_linewidth(0.9)

ax.set_ylabel('850 hPa Temp. (°C)', color=fg, fontsize=7.5, labelpad=6)
ax2.set_ylabel('Niederschlag (mm)', color=fg, fontsize=7.5, labelpad=8)
ax.set_xlabel('Date (UTC)', color=fg, fontsize=7.5, labelpad=5)

fig.text(435 / 850, 1 - 13 / 620,
         'Piacenza  (IT)  850 hPa Temp. & Niederschlag | Wed, 17Apr2019 00Z',
         color=fg, fontsize=11.5, fontweight='bold', ha='center', va='center')
fig.text(120 / 850, 1 - 600 / 620, 'GFS Ensemble, 45N, 9.5E', color='#e6e6e6',
         fontsize=11.5, ha='left', va='center')
fig.text(795 / 850, 1 - 600 / 620, 'Wetterzentrale.de', color='#e6e6e6',
         fontsize=11.5, ha='right', va='center')

# legend on the left side
leg_labels = labels + ['Ens. average', 'Oper', 'Mean 1981-2010']
leg_colors = colors + ['white', '#11dd11', '#ff3b3b']
leg_y = [85 + 16.97 * k for k in range(21)] + [444, 462, 479]
for lab, col, yp in zip(leg_labels, leg_colors, leg_y):
    yf = 1 - yp / 620
    fig.add_artist(Line2D([4 / 850, 16 / 850], [yf, yf], color=col, lw=2.0,
                          transform=fig.transFigure))
    fig.text(24 / 850, yf, lab, color=fg, fontsize=7.5, ha='left', va='center')

fig.savefig('out.png', dpi=100, facecolor='black')
